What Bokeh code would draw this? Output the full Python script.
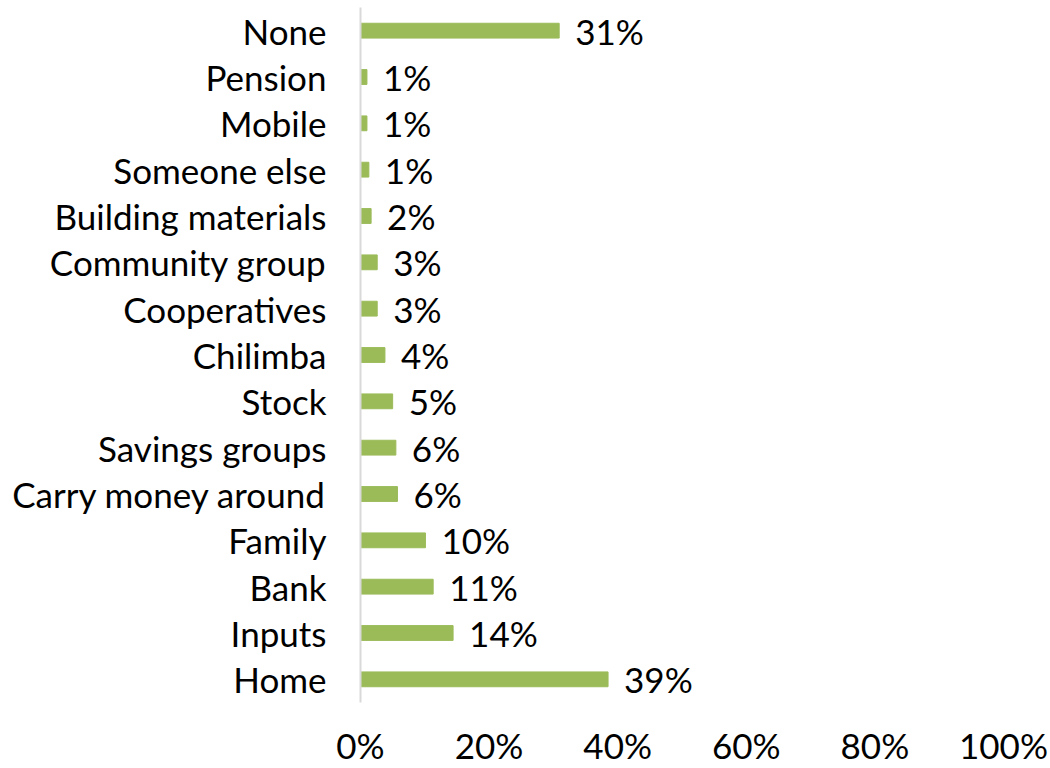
from bokeh.plotting import figure
from bokeh.models import ColumnDataSource, FactorRange, FixedTicker, CustomJSTickFormatter
from bokeh.core.properties import value
from bokeh.embed import file_html
from bokeh.resources import INLINE

categories = ["Home", "Inputs", "Bank", "Family", "Carry money around", "Savings groups",
              "Stock", "Chilimba", "Cooperatives", "Community group", "Building materials",
              "Someone else", "Mobile", "Pension", "None"]
values = [38.5, 14.4, 11.3, 10.1, 5.75, 5.5, 5.0, 3.8, 2.6, 2.6, 1.65, 1.3, 1.0, 1.0, 30.9]
labels = ["39%", "14%", "11%", "10%", "6%", "6%", "5%", "4%", "3%", "3%", "2%", "1%", "1%", "1%", "31%"]
ticks = [0, 20, 40, 60, 80, 100]

FONT = "Lato"
FS = "35px"
src = ColumnDataSource(dict(cat=categories, val=values, lab=labels))

p = figure(width=1050, height=768, y_range=FactorRange(*categories, range_padding=0),
           x_range=(0, 100), output_backend="svg", toolbar_location=None,
           min_border_left=360, min_border_right=47, min_border_top=7, min_border_bottom=65)
p.hbar(y="cat", right="val", left=0, height=0.32, color="#9BBB59", source=src)
p.text(x="val", y="cat", text="lab", source=src, x_offset=16, text_align="left",
       text_baseline="middle", text_font=value(FONT), text_font_size=FS, text_color="#000000")

p.xaxis.ticker = FixedTicker(ticks=ticks)
p.xaxis.formatter = CustomJSTickFormatter(code="return tick + '%';")
p.xaxis.axis_line_color = None
p.xaxis.major_tick_line_color = None
p.xaxis.minor_tick_line_color = None
p.xaxis.major_label_standoff = 15
p.xaxis.major_label_text_font = FONT
p.xaxis.major_label_text_font_size = FS
p.xaxis.major_label_text_color = "#000000"

p.yaxis.axis_line_color = "#d9d9d9"
p.yaxis.axis_line_width = 2
p.yaxis.major_tick_line_color = None
p.yaxis.minor_tick_line_color = None
p.yaxis.major_label_standoff = 28
p.yaxis.major_label_text_font = FONT
p.yaxis.major_label_text_font_size = FS
p.yaxis.major_label_text_color = "#000000"

p.grid.grid_line_color = None
p.outline_line_color = None
p.background_fill_color = "white"
p.border_fill_color = "white"

open("out.html", "w").write(file_html(p, INLINE))
